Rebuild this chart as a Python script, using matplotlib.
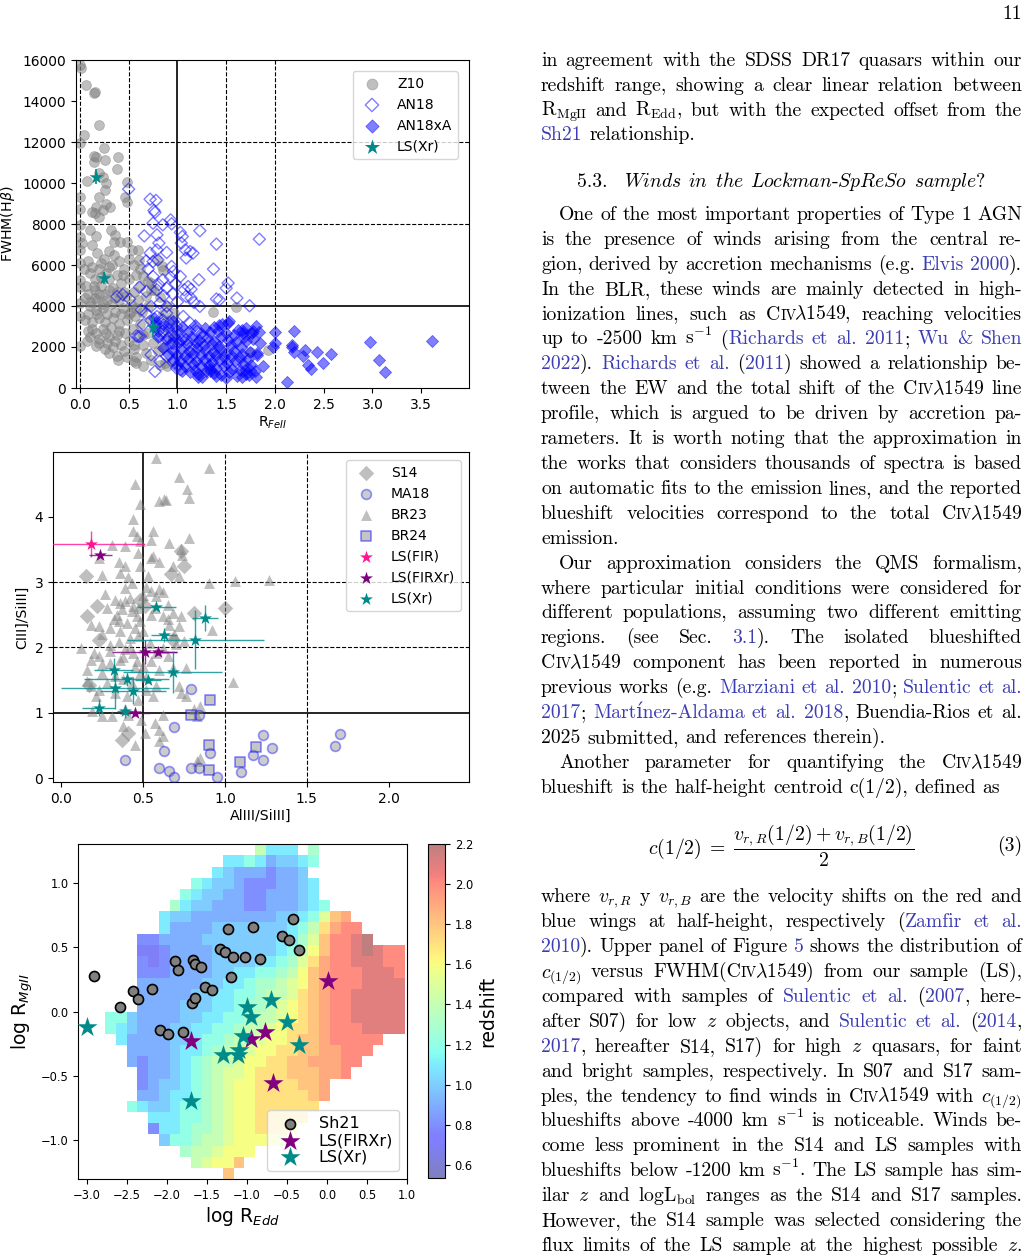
import numpy as np
import matplotlib
matplotlib.use('Agg')
import matplotlib.pyplot as plt

# ======================= DATA =======================
# ---- panel 1: R_FeII vs FWHM(Hbeta)
z10_pts = [(0.0,15750),(0.01,15600),(0.06,14770),(0.14,14370),(0.15,14420),(0.2,12830),(0.04,12340),
    (0.0,11930),(0.25,11690),(0.14,11310),(0.17,11280),(0.14,11040),(0.39,11280),(0.38,10680),(0.26,11120),
    (0.2,10470),(0.24,10310),(0.07,10100),(0.27,9980),(0.26,9660),(0.48,10060),(0.0,9330),(0.0,8720),
    (0.2,9300),(0.27,9000),(0.31,8850),(0.17,8850),(0.24,8690),(0.2,8360),(0.12,8600),(0.15,8520),
    (0.46,9330),(0.48,9090),(0.0,7950),(0.0,7380),(0.02,7060),(0.32,7710),(0.36,7470),(0.41,7140),
    (0.48,7140),(0.53,6740),(0.6,6740),(0.61,6250),(0.79,6250),(0.84,5930),(0.85,5760),(0.65,5440),
    (0.73,5110),(0.73,4790),(0.82,4460),(0.89,3980),(0.96,3650),(1.36,3710),(1.6,3970),(1.74,2680),
    (1.93,1850),(1.74,1770),(0.0,2030),(0.07,2270),(0.17,2030),(0.27,2680),(0.38,1540),(0.39,1380),
    (0.55,1300),(0.58,1220),(0.65,1060),(0.73,1380),(0.82,1140),(0.87,1220),(0.89,1060),(0.0,6740),
    (0.0,6090),(0.0,5280),(0.0,4950),(0.0,4140),(0.0,3490),
    (0.08,6200),(0.12,5900),(0.1,5600),(0.15,5300),(0.2,5800),(0.25,6300),(0.3,6700),(0.35,6500),
    (0.33,6000),(0.4,6200),(0.45,5800),(0.5,6300),(0.55,6000),(0.38,5500),(0.3,5300),(0.22,5000),
    (0.15,4800),(0.08,4600),(0.1,4200),(0.18,4300),(0.26,4600),(0.34,4900),(0.42,5100),(0.5,5300),
    (0.58,5500),(0.62,5000),(0.55,4700),(0.47,4500),(0.4,4300),(0.32,4100),(0.24,3900),(0.16,3800),
    (0.08,3600),(0.05,3300),(0.12,3200),(0.2,3400),(0.28,3600),(0.36,3700),(0.44,3900),(0.52,4100),
    (0.6,4300),(0.68,4500),(0.7,4000),(0.64,3700),(0.56,3500),(0.48,3300),(0.4,3100),(0.32,3000),
    (0.24,2900),(0.16,2700),(0.1,2500),(0.2,2400),(0.3,2500),(0.38,2600),(0.46,2700),(0.54,2900),
    (0.62,3100),(0.72,3300),(0.78,3000),(0.7,2700),(0.6,2500),(0.5,2300),(0.42,2100),(0.34,2000),
    (0.26,1900),(0.45,1800),(0.55,1900),(0.65,2100),(0.75,2200),(0.8,1800),(0.68,1700),(0.58,1500),
    (0.48,1500),(0.3,1700),(0.36,2300),(0.44,5500),(0.27,5600),(0.18,6600),(0.12,7000),(0.35,7100),
    (0.06,5000),(0.62,5800),(0.7,5200),(0.76,4800),(0.85,3600),(0.9,2800),(0.92,3300),(0.95,2400),
    (0.85,2000),(0.52,3700),(0.28,4300),(0.1,4000),(0.2,4600),(0.1,7700),(0.17,7400),
    (0.14,5000),(0.22,5400),(0.3,4800),(0.36,4400),(0.18,3600),(0.26,3200),(0.12,2900),(0.34,3400),
    (0.42,3600),(0.2,2200),(0.28,2200),(0.4,2800),(0.15,4400),(0.24,4100),(0.05,4400),(0.04,5800),
    (0.22,6100),(0.3,5900),(0.08,2800),(0.5,3600),(0.58,3900),(0.45,4700),(0.38,4700),(0.65,2600),
    (0.55,2100)]
an18_pts = [(0.5,9700),(0.72,9210),(0.78,9150),(0.76,8660),(0.77,8560),(0.75,8040),(0.85,7960),
    (0.93,8200),(0.94,8010),(0.66,7420),(0.79,7470),(0.81,7070),(1.03,7590),(1.05,7390),(1.04,7070),
    (1.08,6740),(1.13,6660),(1.16,6580),(1.09,6340),(1.23,7670),(1.4,7020),(1.84,7260),(0.72,6580),
    (0.79,6740),(0.75,6170),(0.89,6610),(0.8,6250),(1.37,5800),(0.94,5930),(0.96,5690),(0.93,5410),
    (1.03,5440),(0.75,5440),(0.85,5280),(0.81,5040),(0.79,4790),(0.89,4870),(1.22,5280),(1.11,4950),
    (1.14,4820),(1.07,4790),(1.52,5120),(1.5,4870),(0.44,4550),(0.38,4470),(0.61,4920),(0.68,4710),
    (0.51,4340),(0.63,3820),(0.6,2520),(1.09,4470),(1.14,4390),(1.17,4170),(1.23,3980),(1.4,4340),
    (1.43,4300),(1.61,4390),(1.74,4010),(0.89,3980),(0.82,4140),(0.73,3980),(0.73,1620),(0.77,810),
    (0.82,1300),(0.89,1540),(0.96,1220),(0.99,970),(1.03,890),(0.82,2520),(0.91,2440),(0.96,2190),
    (1.04,2360),(0.79,3490),(0.85,3330),(0.92,3170),(0.99,3010),(1.06,3490),(0.77,3010),(0.85,2760),
    (0.89,3650),(1.13,3170),(1.2,2760),(1.26,2520),(1.09,2360),(1.16,1870),(0.68,3650),(0.65,3090),
    (0.62,2520),(0.58,2550),(0.95,4600),(1.0,4200),(0.86,4500),(0.98,5100),(0.7,5800),(0.68,6200)]
an18xa_pts = [(0.78,3200),(0.85,3100),(0.95,3250),(1.05,3000),(1.18,3050),(1.28,2950),(1.38,3000),
    (1.46,3100),(1.53,3250),(1.62,2850),(1.7,2950),(1.78,2800),(0.9,2950),(1.0,2850),(1.12,2800),
    (1.24,2700),(1.33,2750),(1.42,2800),(1.5,2700),(1.58,2600),(1.68,2500),(0.8,2500),(0.88,2400),
    (0.97,2550),(1.06,2450),(1.15,2500),(1.22,2350),(1.3,2450),(1.38,2300),(1.45,2500),(1.52,2350),
    (1.6,2250),(1.7,2300),(1.78,2400),(1.85,2200),(0.93,2200),(1.02,2250),(1.1,2150),(1.19,2200),
    (1.27,2100),(1.35,2150),(1.43,2050),(1.55,2100),(1.65,2000),(0.85,1950),(0.95,1850),(1.04,1900),
    (1.12,1800),(1.2,1950),(1.28,1850),(1.36,1750),(1.44,1900),(1.5,1700),(1.58,1800),(1.66,1650),
    (1.74,1750),(1.82,1600),(0.9,1650),(1.0,1600),(1.08,1550),(1.16,1650),(1.24,1600),(1.32,1550),
    (1.4,1600),(1.48,1500),(1.56,1550),(1.64,1450),(1.72,1400),(0.95,1350),(1.03,1300),(1.11,1400),
    (1.19,1300),(1.27,1350),(1.35,1250),(1.43,1350),(1.51,1200),(1.59,1300),(1.67,1150),(1.75,1100),
    (1.0,1100),(1.08,1050),(1.16,1150),(1.24,1050),(1.32,1100),(1.4,1000),(1.48,1050),(1.56,950),
    (1.64,900),(1.05,850),(1.13,800),(1.21,700),(1.29,850),(1.37,750),(1.45,650),(1.53,800),(1.61,600),
    (1.25,550),(1.4,600),(1.5,500),(1.18,900),(1.33,950),(1.7,700),(1.8,850),(0.76,3400),(0.8,2800),
    (2.2,2796),(2.0,2715),(2.0,2180),(1.98,2020),(2.18,2020),(2.2,1770),(2.17,2100),(2.31,1870),
    (2.29,1560),(2.43,1770),(2.58,1650),(2.34,1120),(2.37,910),(2.49,1200),(2.12,310),(2.97,2260),
    (3.07,1370),(3.13,780),(3.61,2300),(1.81,3020),(1.84,2750),(1.76,2670),(1.66,2830),(1.67,2700),
    (1.82,1730),(1.88,1080),(1.81,560),(1.73,650),(1.69,890),(1.66,560),(1.74,890),(1.52,3180),
    (1.43,3070),(1.21,560),(1.33,810)]
ls1_x = [0.16, 0.25, 0.75]
ls1_y = [10300, 5360, 3000]
ls1_yerr = [360, 300, 500]

# ---- panel 2: AlIII/SiIII] vs CIII]/SiIII]
br23_pts = [(0.58,4.9),(0.9,4.74),(0.72,4.6),(0.77,4.42),(0.78,4.29),(0.45,4.5),(0.48,4.19),(0.44,3.96),
    (0.6,4.24),(0.63,4.27),(0.64,4.25),(0.56,3.78),(0.44,3.78),(0.46,3.7),(0.48,3.63),(0.47,3.45),
    (0.55,3.64),(0.66,3.59),(0.78,3.68),(0.73,3.5),(0.74,3.42),(0.31,3.56),(0.39,3.55),(0.23,3.37),
    (0.56,3.4),(0.55,3.37),(0.39,3.24),(0.36,3.14),(0.41,3.07),(0.43,2.99),(0.39,2.91),(0.25,3.11),
    (0.72,3.09),(0.9,2.99),(1.06,3.01),(1.27,3.03),(0.52,2.92),(0.55,2.86),(0.58,2.78),(0.62,2.84),
    (0.6,2.89),(0.27,2.81),(0.33,2.73),(0.36,2.68),(0.39,2.71),(0.44,2.63),(0.37,2.58),(0.34,2.5),
    (0.32,2.43),(0.43,2.55),(0.46,2.48),(0.48,2.4),(0.4,2.38),(0.45,2.3),(0.5,2.25),(0.47,2.17),
    (0.42,2.15),(0.36,2.25),(0.3,2.3),(0.25,2.2),(0.23,2.32),(0.18,2.35),(0.68,2.53),(0.73,2.48),
    (0.65,2.43),(0.62,2.48),(0.66,2.35),(0.72,2.33),(0.69,2.2),(0.92,2.27),(0.12,1.99),(0.18,1.81),
    (0.16,1.66),(0.16,1.48),(0.2,1.92),(0.23,1.87),(0.3,2.04),(0.35,2.09),(0.39,1.97),(0.44,1.92),
    (0.36,1.81),(0.3,1.76),(0.25,1.61),(0.33,1.56),(0.38,1.51),(0.43,1.46),(0.48,1.61),(0.5,1.71),
    (0.46,1.79),(0.54,2.07),(0.58,1.92),(0.62,1.99),(0.65,1.87),(0.55,1.79),(0.6,1.66),(0.68,1.69),
    (0.76,1.69),(0.18,1.41),(0.23,1.35),(0.21,1.25),(0.52,1.35),(0.56,1.25),(0.58,1.41),(0.72,1.41),
    (0.73,1.3),(0.76,1.25),(1.05,1.47),(0.85,1.1),(0.81,1.05),(0.83,0.95),(0.19,1.02),(0.31,0.95),
    (0.25,0.95),(0.38,0.79),(0.45,0.51),(0.51,0.69),(0.6,0.74),(0.62,0.64),(0.6,0.56),(0.57,0.84),
    (0.62,0.97),(0.85,0.31),(0.83,0.26),(0.49,0.89),(0.39,1.05),(0.41,0.97),(0.28,2.6),(0.35,2.4),
    (0.42,2.0),(0.38,1.85),(0.45,1.7),(0.52,1.55),(0.28,1.45),(0.33,1.3),(0.4,1.25),(0.47,1.2),
    (0.5,2.8),(0.42,2.75),(0.47,2.6),(0.3,1.95),(0.25,1.75),(0.57,2.6),(0.65,2.65),(0.7,2.05),
    (0.75,2.1),(0.55,2.5),(0.35,3.3),(0.48,3.25),(0.53,3.1),(0.6,3.3),(0.68,3.25)]
s14_pts = [(0.15,3.09),(0.16,2.48),(0.22,2.63),(0.67,3.13),(0.75,3.24),(0.73,3.47),(1.0,2.6),(0.81,2.53),
    (0.37,0.59),(0.41,0.69),(0.48,2.73),(0.51,2.63),(0.23,2.12),(0.17,1.43),(0.68,2.12)]
ma18_pts = [(0.79,1.36),(0.84,0.96),(0.69,0.78),(0.39,0.27),(0.63,0.41),(0.6,0.16),(0.66,0.11),(0.69,0.01),
    (0.79,0.15),(0.84,0.16),(0.91,0.39),(0.95,0.01),(1.1,0.1),(1.17,0.36),(1.23,0.66),(1.23,0.28),
    (1.29,0.46),(1.67,0.49),(1.7,0.67)]
br24_pts = [(0.91,1.19),(0.79,0.96),(0.9,0.51),(0.9,0.13),(1.09,0.24),(1.19,0.47)]
# (x, y, xerr, yerr)
lsfir_pts = [(0.18,3.58,0.33,0.2)]
lsfirxr_pts = [(0.24,3.42,0.07,0.03),(0.51,1.93,0.2,0.19),(0.59,1.93,0.12,0.05),(0.45,1.0,0.09,0.05)]
lsxr_pts = [(0.58,2.62,0.12,0.03),(0.88,2.45,0.08,0.2),(0.63,2.19,0.08,0.1),(0.82,2.12,0.42,0.45),
    (0.68,1.62,0.3,0.32),(0.32,1.66,0.12,0.18),(0.33,1.38,0.33,0.33),(0.4,1.51,0.26,0.1),
    (0.44,1.34,0.2,0.2),(0.53,1.5,0.08,0.05),(0.23,1.08,0.1,0.13),(0.39,1.02,0.05,0.1)]

# ---- panel 3: log R_Edd vs log R_MgII, binned redshift map
sh21_x = [-2.91,-2.58,-2.42,-2.36,-2.19,-1.9,-1.86,-2.09,-1.99,-1.8,-1.69,-1.65,-1.67,-1.65,-1.57,-1.52,
          -1.44,-1.34,-1.27,-1.24,-1.17,-1.2,-1.02,-0.92,-0.84,-0.56,-0.48,-0.42,-0.35]
sh21_y = [0.277,0.039,0.158,0.101,0.179,0.391,0.324,-0.145,-0.171,-0.158,0.067,0.106,0.399,0.37,0.347,
          0.194,0.171,0.487,0.466,0.642,0.425,0.267,0.425,0.655,0.412,0.591,0.554,0.723,0.482]
firxr_x = [0.015,-1.70,-0.95,-0.78,-0.68]
firxr_y = [0.236,-0.231,-0.21,-0.158,-0.554]
xr_x = [-3.0,-1.0,-0.95,-0.70,-0.50,-0.35,-1.05,-1.30,-1.10,-1.11,-1.70]
xr_y = [-0.122,0.036,-0.044,0.093,-0.08,-0.256,-0.192,-0.334,-0.295,-0.339,-0.697]
# redshift per bin, top row first ('.' = empty bin)
z_code = {'1':0.7,'2':0.8,'3':0.9,'4':1.0,'5':1.1,'6':1.2,'7':1.3,'8':1.4,'9':1.5,
          'A':1.6,'B':1.7,'C':1.8,'D':1.9,'E':2.0,'F':2.1,'G':2.2}
z_rows = [
"..............8555.7........",
"...........556534456........",
"..........543332334.........",
"........654432223345........",
".......6544332233345........",
"......754433322333456.......",
".....5443333333344569CD.....",
".....533334444444568BDEE....",
"...22333344444445579CEEFG...",
"...1123333444444568ACEEFGFEE",
"...2123333444455679BDEEFFFEE",
"...222333344556678ACDEEEFFFE",
"...333333445567789ACDEEEFFFF",
"...333334455667889BCDEEFFFFF",
"...33334445567789ABCDEEFFFFF",
"66433334455667889ABCDEEFFFFF",
"6543334455667889ABBCDEEEFFFF",
".53333445667889AABCCDEEEEE..",
"..333345567889AABBCCDDEEE...",
"..32334567889AABBCCDDDEE....",
"...2334567899ABBBCCCDDE.....",
"...234456789AABBBBCCD.......",
"...334556789AABBBBBCD.......",
"..6544566789AABBBBBB........",
"....55566789AABBBBB.........",
"....25567789AABBBA..........",
".....4667889AAAA9...........",
".......7889AAA..............",
"........89AAC...............",
"...........C................",
]

# ---- right column text
page_number = "11"
para1 = [
 "in agreement with the SDSS DR17 quasars within our",
 "redshift range, showing a clear linear relation between",
 "R$_{\\rm MgII}$ and R$_{\\rm Edd}$, but with the expected offset from the",
 "[Sh21] relationship.",
]
heading_num = "5.3."
heading_words = [r"$\mathit{Winds}$", r"$\mathit{in}$", r"$\mathit{the}$",
                 r"$\mathit{Lockman}$-$\mathit{SpReSo}$", r"$\mathit{sample}$?"]
para2 = [
 "One of the most important properties of Type 1 AGN",
 "is the presence of winds arising from the central re-",
 "gion, derived by accretion mechanisms (e.g. [Elvis 2000]).",
 "In the BLR, these winds are mainly detected in high-",
 "ionization lines, such as C{IV}λ1549, reaching velocities",
 "up to -2500 km s$^{-1}$ ([Richards et al. 2011]; [Wu & Shen]",
 "[2022]). [Richards et al.] ([2011]) showed a relationship be-",
 "tween the EW and the total shift of the C{IV}λ1549 line",
 "profile, which is argued to be driven by accretion pa-",
 "rameters. It is worth noting that the approximation in",
 "the works that considers thousands of spectra is based",
 "on automatic fits to the emission lines, and the reported",
 "blueshift velocities correspond to the total C{IV}λ1549",
 "emission.",
 "Our approximation considers the QMS formalism,",
 "where particular initial conditions were considered for",
 "different populations, assuming two different emitting",
 "regions. (see Sec. [3.1]). The isolated blueshifted",
 "C{IV}λ1549 component has been reported in numerous",
 "previous works (e.g. [Marziani et al. 2010]; [Sulentic et al.]",
 "[2017]; [Martínez-Aldama et al. 2018], Buendia-Rios et al.",
 "2025 submitted, and references therein).",
 "Another parameter for quantifying the C{IV}λ1549",
 "blueshift is the half-height centroid c(1/2), defined as",
]
para2_indent = [0, 14, 22]
para2_last = [13, 21, 23]
equation = r"$c(1/2)\;=\;\dfrac{v_{r,R}(1/2) + v_{r,B}(1/2)}{2}$"
eq_number = "(3)"
para3 = [
 "where $v_{r,R}$ y $v_{r,B}$ are the velocity shifts on the red and",
 "blue wings at half-height, respectively ([Zamfir et al.]",
 "[2010]). Upper panel of Figure [5] shows the distribution of",
 "$c_{(1/2)}$ versus FWHM(C{IV}λ1549) from our sample (LS),",
 "compared with samples of [Sulentic et al.] ([2007], here-",
 "after S07) for low $z$ objects, and [Sulentic et al.] ([2014],",
 "[2017], hereafter S14, S17) for high $z$ quasars, for faint",
 "and bright samples, respectively. In S07 and S17 sam-",
 "ples, the tendency to find winds in C{IV}λ1549 with $c_{(1/2)}$",
 "blueshifts above -4000 km s$^{-1}$ is noticeable. Winds be-",
 "come less prominent in the S14 and LS samples with",
 "blueshifts below -1200 km s$^{-1}$. The LS sample has sim-",
 "ilar $z$ and logL$_{\\rm bol}$ ranges as the S14 and S17 samples.",
 "However, the S14 sample was selected considering the",
 "flux limits of the LS sample at the highest possible $z$.",
]

# ======================= FIGURE =======================
W, H = 1031, 1256
fig = plt.figure(figsize=(W / 100, H / 100), dpi=100)


def rect(l, t, r, b):
    return [l / W, 1 - b / H, (r - l) / W, (b - t) / H]


def unzip(pts):
    return [list(c) for c in zip(*pts)]


LW_DASH = 0.8
# ---------------- panel 1
ax1 = fig.add_axes(rect(76, 60, 469, 388))
zx, zy = unzip(z10_pts)
ax1.scatter(zx, zy, s=50, c='grey', alpha=0.5, lw=0.6, edgecolors='grey', label='Z10', zorder=2)
ax_, ay_ = unzip(an18_pts)
ax1.scatter(ax_, ay_, s=38, marker='D', facecolors='none', edgecolors='blue', lw=1.0, alpha=0.5,
            label='AN18', zorder=3)
bx_, by_ = unzip(an18xa_pts)
ax1.scatter(bx_, by_, s=38, marker='D', c='blue', lw=0.6, edgecolors='blue', alpha=0.5,
            label='AN18xA', zorder=3)
ax1.errorbar(ls1_x, ls1_y, yerr=ls1_yerr, fmt='none', ecolor='darkcyan', elinewidth=1.2, zorder=4)
ax1.scatter(ls1_x, ls1_y, marker='*', s=110, c='darkcyan', lw=0, label='LS(Xr)', zorder=5)
for xv in [0.0, 0.5, 1.5, 2.0]:
    ax1.axvline(xv, color='k', ls='--', lw=LW_DASH, zorder=1)
for yv in [8000, 12000]:
    ax1.axhline(yv, color='k', ls='--', lw=LW_DASH, zorder=1)
ax1.axvline(1.0, color='k', lw=1.2, zorder=1)
ax1.axhline(4000, color='k', lw=1.2, zorder=1)
ax1.set_xlim(-0.04, 3.99)
ax1.set_ylim(0, 16000)
ax1.set_xticks([0.0, 0.5, 1.0, 1.5, 2.0, 2.5, 3.0, 3.5])
ax1.set_yticks(np.arange(0, 16001, 2000))
ax1.tick_params(labelsize=9.9)
ax1.set_xlabel(r'R$_{FeII}$', fontsize=10.2, labelpad=2)
ax1.set_ylabel(r'FWHM(H$\beta$)', fontsize=10.2)
ax1.legend(loc='upper right', fontsize=10, borderaxespad=0.8, markerscale=1.1)

# ---------------- panel 2
ax2 = fig.add_axes(rect(53, 452, 469, 782))
x_, y_ = unzip(br23_pts)
ax2.scatter(x_, y_, s=62, marker='^', c='grey', alpha=0.5, lw=0, label='BR23', zorder=2)
x_, y_ = unzip(s14_pts)
ax2.scatter(x_, y_, s=62, marker='D', c='grey', alpha=0.5, lw=0, label='S14', zorder=2)
x_, y_ = unzip(ma18_pts)
ax2.scatter(x_, y_, s=50, marker='o', facecolors='grey', edgecolors='blue', lw=1.2, alpha=0.4,
            label='MA18', zorder=3)
x_, y_ = unzip(br24_pts)
ax2.scatter(x_, y_, s=55, marker='s', facecolors='grey', edgecolors='blue', lw=1.2, alpha=0.45,
            label='BR24', zorder=3)
for pts, col, lab in [(lsfir_pts, 'deeppink', 'LS(FIR)'), (lsfirxr_pts, 'purple', 'LS(FIRXr)'),
                      (lsxr_pts, 'darkcyan', 'LS(Xr)')]:
    px, py, pxe, pye = unzip(pts)
    ax2.errorbar(px, py, xerr=pxe, yerr=pye, fmt='none', ecolor=col, elinewidth=1.0, alpha=0.8, zorder=4)
    ax2.scatter(px, py, marker='*', s=95, c=col, lw=0, label=lab, zorder=5)
for xv in [1.0, 1.5]:
    ax2.axvline(xv, color='k', ls='--', lw=LW_DASH, zorder=1)
for yv in [2, 3]:
    ax2.axhline(yv, color='k', ls='--', lw=LW_DASH, zorder=1)
ax2.axvline(0.5, color='k', lw=1.2, zorder=1)
ax2.axhline(1.0, color='k', lw=1.2, zorder=1)
ax2.set_xlim(-0.05, 2.49)
ax2.set_ylim(-0.06, 4.99)
ax2.set_xticks([0.0, 0.5, 1.0, 1.5, 2.0])
ax2.set_yticks([0, 1, 2, 3, 4])
ax2.tick_params(labelsize=9.9)
ax2.set_xlabel('AlIII/SiIII]', fontsize=10.2, labelpad=2)
ax2.set_ylabel('CIII]/SiIII]', fontsize=10.2)
hl, ll = ax2.get_legend_handles_labels()
order = ['S14', 'MA18', 'BR23', 'BR24', 'LS(FIR)', 'LS(FIRXr)', 'LS(Xr)']
hmap = dict(zip(ll, hl))
ax2.legend([hmap[k] for k in order], order, loc='upper right', fontsize=10, borderaxespad=0.6)

# ---------------- panel 3
ax3 = fig.add_axes(rect(78.3, 844.3, 407.3, 1179))
ncol = len(z_rows[0])
nrow = len(z_rows)
x_edges = np.linspace(-2.767, 0.967, ncol + 1)
y_edges = np.linspace(-1.3, 1.3, nrow + 1)
Z = np.full((nrow, ncol), np.nan)
for i, row in enumerate(z_rows):
    row = row.ljust(ncol, '.')[:ncol]
    for j, ch in enumerate(row):
        if ch in z_code:
            Z[nrow - 1 - i, j] = z_code[ch]
Zm = np.ma.masked_invalid(Z)
pcm = ax3.pcolormesh(x_edges, y_edges, Zm, cmap='jet', vmin=0.535, vmax=2.2, alpha=0.5,
                     edgecolors='none', zorder=1)
ax3.scatter(sh21_x, sh21_y, s=52, c='grey', edgecolors='black', lw=1.2, label='Sh21', zorder=3)
ax3.scatter(firxr_x, firxr_y, marker='*', s=230, c='purple', lw=0, label='LS(FIRXr)', zorder=4)
ax3.scatter(xr_x, xr_y, marker='*', s=230, c='darkcyan', lw=0, label='LS(Xr)', zorder=4)
ax3.set_xlim(-3.105, 1.0)
ax3.set_ylim(-1.3, 1.3)
ax3.set_xticks([-3.0, -2.5, -2.0, -1.5, -1.0, -0.5, 0.0, 0.5, 1.0])
ax3.set_yticks([-1.0, -0.5, 0.0, 0.5, 1.0])
ax3.tick_params(labelsize=8.3)
ax3.set_xlabel(r'log R$_{Edd}$', fontsize=13.5, labelpad=2)
ax3.set_ylabel(r'log R$_{MgII}$', fontsize=13.5)
ax3.legend(loc='lower right', fontsize=11.5, labelspacing=0.1, borderaxespad=0.5)
cax = fig.add_axes(rect(428, 844, 445, 1178))
cb = fig.colorbar(pcm, cax=cax)
cb.set_ticks([0.6, 0.8, 1.0, 1.2, 1.4, 1.6, 1.8, 2.0, 2.2])
cb.ax.tick_params(labelsize=8.3)
cb.set_label('redshift', fontsize=13.5)

# ---------------- text column
BODY = 14.2
FAM = ['cmr10', 'DejaVu Serif']
LINK = '#3c3cb4'
PX = 100 / 72.0
SPACE = 0.333 * BODY * PX
X0, X1 = 541.0, 1022.0
INDENT = 18.0
renderer = fig.canvas.get_renderer()


def mk(s, size=BODY, color='black'):
    return fig.text(0, 0, s, fontsize=size, family=FAM, math_fontfamily='cm', color=color,
                    va='baseline', ha='left', transform=fig.transFigure)


def width(t):
    return t.get_window_extent(renderer).width


def place(t, x, yb):
    t.set_position((x / W, 1 - yb / H))


def parse(line):
    line = line.replace('λ', r'$\lambda$')
    words, word, buf = [], [], ''
    blue = sc = math = False
    for ch in line:
        if math:
            buf += ch
            if ch == '$':
                math = False
            continue
        if ch in '[]{} ':
            if buf:
                word.append((buf, blue, sc))
                buf = ''
            if ch == '[':
                blue = True
            elif ch == ']':
                blue = False
            elif ch == '{':
                sc = True
            elif ch == '}':
                sc = False
            else:
                if word:
                    words.append(word)
                word = []
            continue
        if ch == '$':
            math = True
        buf += ch
    if buf:
        word.append((buf, blue, sc))
    if word:
        words.append(word)
    return words


def render_line(line, yc, justify=True, indent=0.0):
    yb = yc + 5.0
    items = []
    total = 0.0
    for w in parse(line):
        segs = []
        ww = 0.0
        for (txt, blue, sc) in w:
            t = mk(txt, BODY * (0.74 if sc else 1.0), LINK if blue else 'black')
            bw = width(t) + (-2.2 if sc else 0.0)
            segs.append((t, bw))
            ww += bw
        items.append((segs, ww))
        total += ww
    x0 = X0 + indent
    n = len(items)
    gap = (X1 - x0 - total) / (n - 1) if (justify and n > 1) else SPACE
    x = x0
    for segs, ww in items:
        xx = x
        for t, bw in segs:
            place(t, xx, yb)
            xx += bw
        x += ww + gap


# page number
fig.text(X1 / W, 1 - 19 / H, page_number, fontsize=BODY, family=FAM, ha='right', va='baseline')

LS_ = 24.9
for k, line in enumerate(para1):
    render_line(line, 60.7 + k * LS_, justify=(k < len(para1) - 1))

# heading (centered)
hs = [mk(heading_num)] + [mk(s) for s in heading_words]
hw = [width(t) for t in hs]
gaps = [16.5] + [SPACE] * (len(hs) - 2)
tot = sum(hw) + sum(gaps)
x = (X0 + X1) / 2 - tot / 2
for i, t in enumerate(hs):
    place(t, x, 187.0)
    x += hw[i] + (gaps[i] if i < len(gaps) else 0)

for k, line in enumerate(para2):
    render_line(line, 215.0 + k * LS_, justify=(k not in para2_last),
                indent=(INDENT if k in para2_indent else 0.0))

fig.text(781 / W, 1 - 846 / H, equation, fontsize=BODY, math_fontfamily='cm', ha='center', va='center')
fig.text(X1 / W, 1 - 851 / H, eq_number, fontsize=BODY, family=FAM, ha='right', va='baseline')

for k, line in enumerate(para3):
    render_line(line, 897.3 + k * LS_, justify=True)

fig.savefig('out.png', dpi=100)
